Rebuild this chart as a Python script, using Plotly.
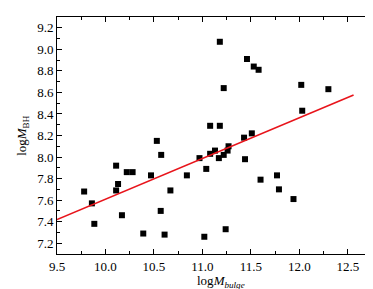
import plotly.graph_objects as go

log_m_bulge = [9.78, 9.86, 9.885, 10.11, 10.11, 10.13, 10.17, 10.22, 10.28, 10.39,
               10.47, 10.53, 10.575, 10.57, 10.61, 10.67, 10.84, 10.97, 11.04, 11.08,
               11.18, 11.08, 11.13, 11.17, 11.22, 11.27, 11.26, 11.43, 11.51, 11.44,
               11.60, 11.77, 11.79, 11.94, 11.02, 11.24, 11.18, 11.46, 11.53, 11.58,
               11.22, 12.02, 12.30, 12.03]
log_m_bh = [7.68, 7.57, 7.38, 7.92, 7.69, 7.75, 7.46, 7.86, 7.86, 7.29,
            7.83, 8.15, 8.02, 7.50, 7.28, 7.69, 7.83, 7.99, 7.89, 8.29,
            8.29, 8.03, 8.06, 7.99, 8.02, 8.10, 8.06, 8.18, 8.22, 7.98,
            7.79, 7.83, 7.70, 7.61, 7.26, 7.33, 9.07, 8.91, 8.84, 8.81,
            8.64, 8.67, 8.63, 8.43]

fit_x = [9.5, 12.56]
fit_y = [7.42, 8.575]

font = dict(family="Liberation Serif, Times New Roman, serif", size=13, color="black")

fig = go.Figure()
fig.add_trace(go.Scatter(x=log_m_bulge, y=log_m_bh, mode="markers",
                         marker=dict(symbol="square", size=6, color="black"),
                         showlegend=False))
fig.add_trace(go.Scatter(x=fit_x, y=fit_y, mode="lines",
                         line=dict(color="#e8141b", width=1.6), showlegend=False))

axis_common = dict(showline=True, linecolor="black", linewidth=1, mirror="allticks",
                   ticks="inside", ticklen=5, tickcolor="black", showgrid=False,
                   zeroline=False, tickfont=font, automargin=False)

fig.update_xaxes(range=[9.5, 12.75], dtick=0.5, tick0=9.5, tickformat=".1f",
                 minor=dict(ticks="inside", ticklen=3, dtick=0.25, tick0=9.5, tickcolor="black"),
                 **axis_common)
fig.update_yaxes(range=[7.1, 9.3], dtick=0.2, tick0=7.2, tickformat=".1f",
                 minor=dict(ticks="inside", ticklen=3, dtick=0.1, tick0=7.1, tickcolor="black"),
                 **axis_common)

fig.add_annotation(text="log<i>M</i><sub><i>bulge</i></sub>", xref="paper", yref="paper",
                   x=0.52, y=-0.115, xanchor="center", yanchor="middle",
                   showarrow=False, font=font)
fig.add_annotation(text="log<i>M</i><sub>BH</sub>", xref="paper", yref="paper",
                   x=-0.11, y=0.5, xanchor="center", yanchor="middle", textangle=-90,
                   showarrow=False, font=font)

fig.update_layout(width=373, height=289, margin=dict(l=49, r=9, t=9, b=43),
                  paper_bgcolor="white", plot_bgcolor="white", font=font)

fig.write_html("out.html")
